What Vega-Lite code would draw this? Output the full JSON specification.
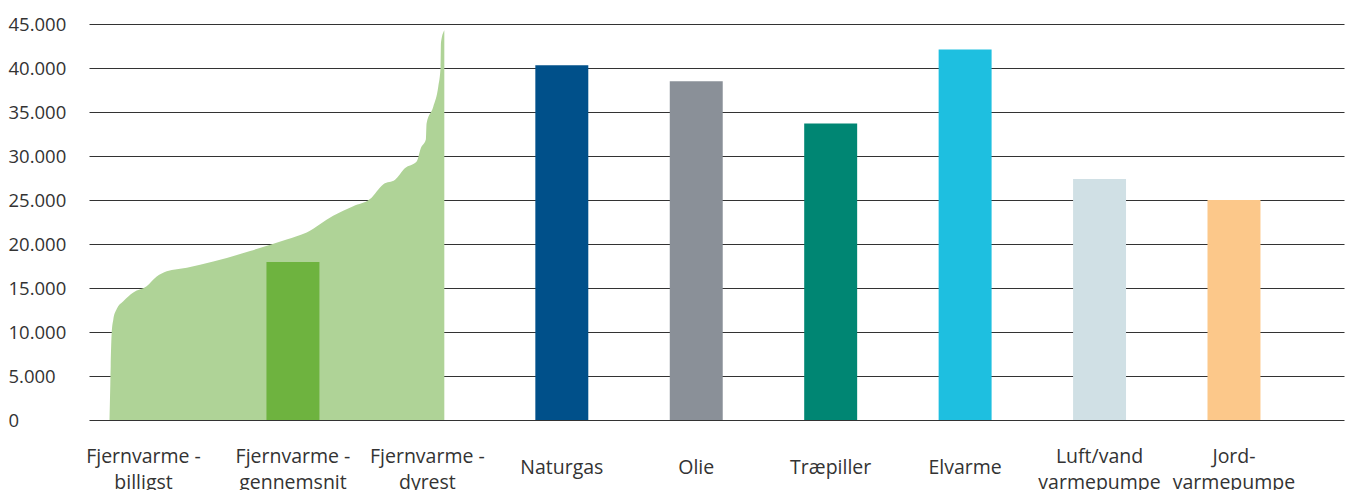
{
  "$schema": "https://vega.github.io/schema/vega-lite/v6.json",
  "width": 1255,
  "height": 396,
  "autosize": {"type": "none"},
  "padding": {"left": 89, "right": 8, "top": 24, "bottom": 70},
  "background": "white",
  "config": {
    "view": {"stroke": null},
    "font": "Open Sans"
  },
  "datasets": {
    "bars": [
      {"kategori": "Fjernvarme - gennemsnit", "pris": 17950, "farve": "b"},
      {"kategori": "Naturgas", "pris": 40300, "farve": "d"},
      {"kategori": "Olie", "pris": 38500, "farve": "e"},
      {"kategori": "Træpiller", "pris": 33700, "farve": "f"},
      {"kategori": "Elvarme", "pris": 42100, "farve": "g"},
      {"kategori": "Luft/vand varmepumpe", "pris": 27400, "farve": "h"},
      {"kategori": "Jordvarmepumpe", "pris": 25000, "farve": "i"}
    ],
    "fordeling": [
      {"andel": 0, "pris": 0},
      {"andel": 0.24, "pris": 4000},
      {"andel": 0.36, "pris": 6100},
      {"andel": 0.66, "pris": 9900},
      {"andel": 1.13, "pris": 11400},
      {"andel": 2.15, "pris": 12600},
      {"andel": 4.12, "pris": 13500},
      {"andel": 7.11, "pris": 14500},
      {"andel": 11.1, "pris": 15200},
      {"andel": 14.1, "pris": 16300},
      {"andel": 17.1, "pris": 16900},
      {"andel": 23.1, "pris": 17300},
      {"andel": 31.0, "pris": 18000},
      {"andel": 42.0, "pris": 19200},
      {"andel": 52.9, "pris": 20500},
      {"andel": 58.9, "pris": 21300},
      {"andel": 66.8, "pris": 23200},
      {"andel": 72.8, "pris": 24300},
      {"andel": 77.8, "pris": 25100},
      {"andel": 81.8, "pris": 26800},
      {"andel": 85.3, "pris": 27300},
      {"andel": 88.2, "pris": 28600},
      {"andel": 91.8, "pris": 29400},
      {"andel": 93.0, "pris": 30900},
      {"andel": 94.5, "pris": 31900},
      {"andel": 94.7, "pris": 33700},
      {"andel": 96.7, "pris": 35600},
      {"andel": 98.2, "pris": 37900},
      {"andel": 98.9, "pris": 40200},
      {"andel": 99.0, "pris": 42900},
      {"andel": 100, "pris": 44300}
    ]
  },
  "layer": [
    {
      "data": {"name": "fordeling"},
      "mark": {"type": "area", "interpolate": "monotone", "color": "#AFD397"},
      "encoding": {
        "x": {
          "field": "andel",
          "type": "quantitative",
          "scale": {"domain": [-6.12, 368.7], "nice": false, "zero": false},
          "axis": null
        },
        "y": {
          "field": "pris",
          "type": "quantitative",
          "scale": {"domain": [0, 45000], "nice": false},
          "axis": {
            "values": [0, 5000, 10000, 15000, 20000, 25000, 30000, 35000, 40000, 45000],
            "labelExpr": "replace(format(datum.value, ','), ',', '.')",
            "title": null,
            "domain": false,
            "ticks": false,
            "tickSize": 0,
            "grid": true,
            "gridColor": "#333333",
            "gridWidth": 1.2,
            "labelAlign": "left",
            "labelBaseline": "middle",
            "labelPadding": 81,
            "labelFont": "Open Sans",
            "labelFontSize": 18.5,
            "labelColor": "#333333"
          }
        }
      }
    },
    {
      "data": {"name": "bars"},
      "mark": {"type": "bar"},
      "encoding": {
        "x": {
          "field": "kategori",
          "type": "nominal",
          "sort": null,
          "scale": {
            "domain": ["Fjernvarme - billigst", "Fjernvarme - gennemsnit", "Fjernvarme - dyrest", "Naturgas", "Olie", "Træpiller", "Elvarme", "Luft/vand varmepumpe", "Jordvarmepumpe"],
            "range": [2.3, 1212.2], "paddingInner": 0.606, "paddingOuter": 0.303
          },
          "axis": {
            "title": null,
            "domain": false,
            "ticks": false,
            "tickSize": 0,
            "grid": false,
            "labelAngle": 0,
            "labelAlign": "center",
            "labelBaseline": "middle",
            "labelPadding": {"condition": {"test": "indexof(datum.value, ' ') > 0 || datum.value === 'Jordvarmepumpe'", "value": 36}, "value": 47},
            "labelLineHeight": 26,
            "labelFont": "Open Sans",
            "labelFontSize": 19.5,
            "labelColor": "#333333",
            "labelOffset": {"condition": {"test": "datum.value === 'Fjernvarme - billigst'", "value": -15}, "value": 0},
            "labelExpr": "indexof(datum.label, ' - ') > 0 ? [slice(datum.label, 0, indexof(datum.label, ' - ') + 2), slice(datum.label, indexof(datum.label, ' - ') + 3)] : datum.label == 'Jordvarmepumpe' ? ['Jord-', 'varmepumpe'] : indexof(datum.label, ' ') > 0 ? split(datum.label, ' ') : datum.label"
          }
        },
        "y": {"field": "pris", "type": "quantitative"},
        "color": {
          "field": "farve",
          "type": "nominal",
          "scale": {
            "domain": ["b", "d", "e", "f", "g", "h", "i"],
            "range": ["#6EB33F", "#00508A", "#8A9098", "#008673", "#1EBFE0", "#D0E0E5", "#FCC88A"]
          },
          "legend": null
        }
      }
    }
  ],
  "resolve": {"scale": {"x": "independent", "color": "independent"}, "axis": {"x": "independent"}}
}
